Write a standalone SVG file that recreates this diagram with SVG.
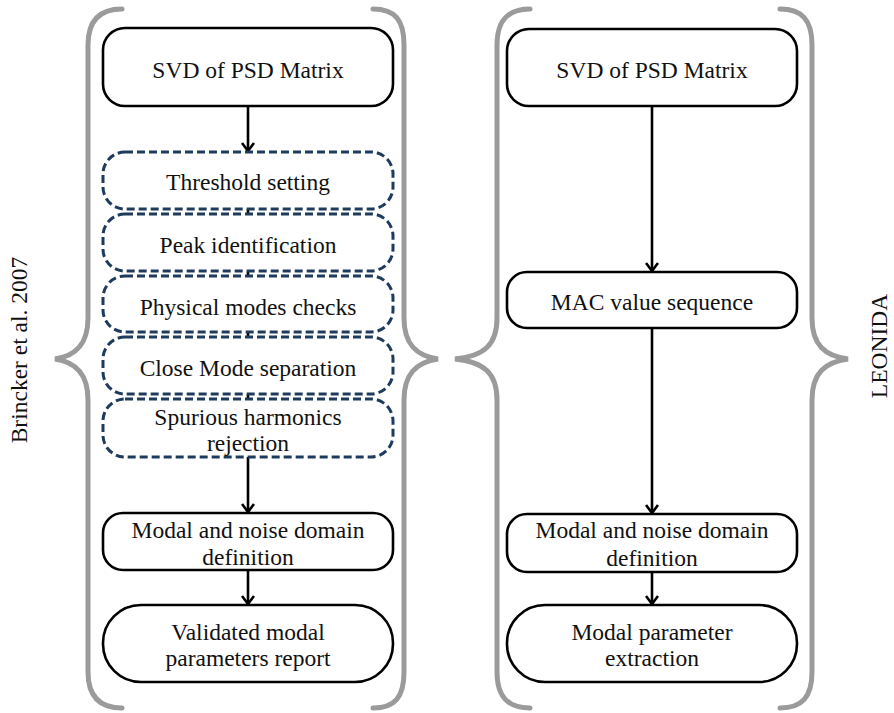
<svg xmlns="http://www.w3.org/2000/svg" width="894" height="713" viewBox="0 0 894 713">
<style>
  .brace{fill:none;stroke:#9b9b9b;stroke-width:5;stroke-linecap:round}
  .box{fill:#fff;stroke:#000;stroke-width:2.6}
  .dash{fill:#fff;stroke:#1e3a5c;stroke-width:3;stroke-dasharray:8 4}
  .lbl{font-family:"Liberation Serif","Times New Roman",serif;font-size:23.5px;fill:#111;text-anchor:middle}
  .conn{stroke:#000;stroke-width:2.6;fill:none}
</style>
<defs>
  <marker id="ah" viewBox="0 0 10 14" refX="9" refY="7" markerWidth="10" markerHeight="14" markerUnits="userSpaceOnUse" orient="auto">
    <path d="M1,1 L9,7 L1,13" fill="none" stroke="#000" stroke-width="2.6"/>
  </marker>
</defs>
<rect width="894" height="713" fill="#fff"/>

<g id="braces">
  <path class="brace" d="M122,9 C100,9 88,20 88,45 L88,318 C88,345 75,356 55,359 C75,362 88,373 88,400 L88,672 C88,697 100,708 122,708"/>
  <path class="brace" d="M373,9 C395,9 404,20 404,45 L404,318 C404,345 417,356 438,359 C417,362 404,373 404,400 L404,672 C404,697 395,708 373,708"/>
  <path class="brace" d="M530,9 C508,9 497,20 497,45 L497,318 C497,345 484,356 455,359 C484,362 497,373 497,400 L497,672 C497,697 508,708 530,708"/>
  <path class="brace" d="M780,9 C802,9 812,20 812,45 L812,318 C812,345 825,356 848,359 C825,362 812,373 812,400 L812,672 C812,697 802,708 780,708"/>
</g>

<g id="connectors">
  <line class="conn" x1="248" y1="106" x2="248" y2="151" marker-end="url(#ah)"/>
  <line class="conn" x1="248" y1="209" x2="248" y2="214" stroke-width="2"/>
  <line class="conn" x1="248" y1="271" x2="248" y2="276" stroke-width="2"/>
  <line class="conn" x1="248" y1="332" x2="248" y2="337" stroke-width="2"/>
  <line class="conn" x1="248" y1="394" x2="248" y2="399" stroke-width="2"/>
  <line class="conn" x1="248" y1="457" x2="248" y2="512" marker-end="url(#ah)"/>
  <line class="conn" x1="248" y1="570" x2="248" y2="604" marker-end="url(#ah)"/>
  <line class="conn" x1="652" y1="106" x2="652" y2="271" marker-end="url(#ah)"/>
  <line class="conn" x1="652" y1="328" x2="652" y2="513" marker-end="url(#ah)"/>
  <line class="conn" x1="652" y1="572" x2="652" y2="604" marker-end="url(#ah)"/>
</g>

<g id="l-svd">
  <rect class="box" x="103" y="28" width="290" height="78" rx="22"/>
  <text class="lbl" x="248" y="78">SVD of PSD Matrix</text>
</g>
<g id="l-threshold">
  <rect class="dash" x="103" y="152" width="290" height="57" rx="22"/>
  <text class="lbl" x="248" y="190">Threshold setting</text>
</g>
<g id="l-peak">
  <rect class="dash" x="103" y="214" width="290" height="57" rx="22"/>
  <text class="lbl" x="248" y="253">Peak identification</text>
</g>
<g id="l-physical">
  <rect class="dash" x="103" y="276" width="290" height="56" rx="22"/>
  <text class="lbl" x="248" y="315">Physical modes checks</text>
</g>
<g id="l-close">
  <rect class="dash" x="103" y="337" width="290" height="57" rx="22"/>
  <text class="lbl" x="248" y="376">Close Mode separation</text>
</g>
<g id="l-spurious">
  <rect class="dash" x="103" y="399" width="290" height="58" rx="22"/>
  <text class="lbl" x="248" y="425">Spurious harmonics</text>
  <text class="lbl" x="248" y="451">rejection</text>
</g>
<g id="l-modal">
  <rect class="box" x="103" y="513" width="290" height="57" rx="20"/>
  <text class="lbl" x="248" y="538">Modal and noise domain</text>
  <text class="lbl" x="248" y="565">definition</text>
</g>
<g id="l-validated">
  <rect class="box" x="103" y="605" width="290" height="77" rx="38"/>
  <text class="lbl" x="248" y="640">Validated modal</text>
  <text class="lbl" x="248" y="666">parameters report</text>
</g>

<g id="r-svd">
  <rect class="box" x="507" y="29" width="290" height="77" rx="22"/>
  <text class="lbl" x="652" y="78">SVD of PSD Matrix</text>
</g>
<g id="r-mac">
  <rect class="box" x="507" y="272" width="290" height="56" rx="20"/>
  <text class="lbl" x="652" y="310">MAC value sequence</text>
</g>
<g id="r-modal">
  <rect class="box" x="507" y="514" width="290" height="58" rx="20"/>
  <text class="lbl" x="652" y="538">Modal and noise domain</text>
  <text class="lbl" x="652" y="566">definition</text>
</g>
<g id="r-extraction">
  <rect class="box" x="507" y="605" width="290" height="77" rx="38"/>
  <text class="lbl" x="652" y="640">Modal parameter</text>
  <text class="lbl" x="652" y="666">extraction</text>
</g>

<g id="labels">
  <text class="lbl" transform="translate(27,350) rotate(-90)">Brincker et al. 2007</text>
  <text class="lbl" transform="translate(887,346) rotate(-90)">LEONIDA</text>
</g>
</svg>
